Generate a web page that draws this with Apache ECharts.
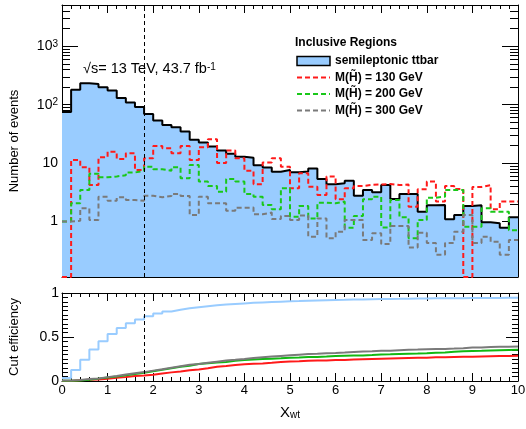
<!DOCTYPE html>
<html>
<head>
<meta charset="utf-8">
<script src="https://cdn.jsdelivr.net/npm/echarts@6/dist/echarts.min.js"></script>
<style>
  html, body { margin: 0; padding: 0; background: #ffffff; }
  #chart { width: 526px; height: 429px; }
</style>
</head>
<body>
<div id="chart"></div>
<script>
// Binning of the X_wt distribution
const BIN_WIDTH = 0.2;
const X_MIN = 0;
const X_MAX = 10;
const CUT_VALUE = 1.8;

// Event yields per bin (43.7 fb^-1)
const ttbar = [75, 180, 234, 226, 200, 175, 130, 109, 91, 69,
  53.6, 44.7, 41.3, 34.7, 25, 22.5, 19.2, 16.4, 14.4, 12.9,
  12.4, 9.2, 8.4, 7.1, 7.6, 7.0, 7.15, 8.05, 5.36, 4.35,
  4.5, 5.0, 2.77, 3.47, 3.17, 4.23, 2.43, 2.96, 2.96, 1.47,
  1.9, 1.92, 1.09, 1.29, 1.84, 1.9, 0.97, 0.93, 0.78, 1.18];

const m130 = [0, 11.3, 8.5, 4.2, 12.6, 15.7, 11.8, 14.8, 7.6, 12.1,
  19.7, 18.0, 14.8, 19.7, 11.3, 18.7, 25.7, 10.0, 16.4, 12.1,
  7.4, 4.35, 10.2, 12.1, 8.7, 3.7, 6.7, 3.95, 2.85, 5.9,
  2.4, 3.7, 4.06, 4.23, 4.3, 4.4, 4.2, 4.3, 1.79, 3.57,
  4.82, 2.19, 4.06, 3.6, 0, 3.9, 4.2, 1.62, 2.19, 2.19];

const m200 = [1.0, 2.05, 3.47, 6.6, 5.7, 5.9, 6.2, 6.9, 7.4, 8.7,
  7.85, 7.4, 8.5, 5.5, 9.3, 4.82, 4.06, 3.24, 5.36, 4.82,
  2.96, 2.66, 1.92, 1.62, 3.7, 1.21, 1.84, 1.13, 2.1, 2.05,
  2.19, 0.78, 1.24, 2.4, 2.66, 0.79, 2.34, 1.18, 0.515, 1.06,
  2.56, 2.66, 3.47, 3.47, 0.81, 0.81, 1.68, 1.47, 1.47, 0.71];

const m300 = [1.0, 1.03, 1.68, 1.06, 2.66, 2.27, 2.6, 2.34, 2.27, 2.77,
  2.6, 2.73, 2.96, 2.73, 1.29, 2.66, 2.05, 2.05, 1.53, 1.72,
  1.73, 1.33, 1.42, 1.10, 1.24, 1.06, 1.26, 0.55, 1.13, 0.515,
  0.67, 1.06, 1.06, 0.48, 0.63, 0.41, 0.84, 0.84, 0.36, 0.64,
  0.43, 0.27, 0.43, 0.67, 1.29, 0.43, 0.55, 0.45, 0.27, 0.48];

// Cut efficiency (fraction of events with X_wt below the bin's upper edge)
const effTtbar = [0.035, 0.126, 0.242, 0.358, 0.452, 0.535, 0.603, 0.655, 0.700, 0.737,
  0.766, 0.789, 0.809, 0.826, 0.839, 0.850, 0.860, 0.868, 0.875, 0.882,
  0.888, 0.893, 0.897, 0.901, 0.905, 0.908, 0.912, 0.916, 0.919, 0.921,
  0.923, 0.926, 0.927, 0.929, 0.931, 0.933, 0.934, 0.936, 0.937, 0.938,
  0.939, 0.940, 0.941, 0.941, 0.942, 0.943, 0.944, 0.944, 0.945, 0.945];

const effM130 = [0, 0.008, 0.014, 0.017, 0.026, 0.038, 0.046, 0.057, 0.062, 0.071,
  0.085, 0.098, 0.109, 0.123, 0.131, 0.145, 0.163, 0.171, 0.182, 0.191,
  0.196, 0.200, 0.207, 0.216, 0.222, 0.225, 0.229, 0.232, 0.234, 0.239,
  0.240, 0.243, 0.246, 0.249, 0.252, 0.255, 0.258, 0.261, 0.263, 0.265,
  0.269, 0.270, 0.273, 0.276, 0.276, 0.279, 0.282, 0.283, 0.284, 0.286];

const effM200 = [0.002, 0.006, 0.014, 0.027, 0.039, 0.051, 0.064, 0.079, 0.094, 0.112,
  0.128, 0.144, 0.161, 0.173, 0.192, 0.202, 0.211, 0.217, 0.229, 0.239,
  0.245, 0.250, 0.254, 0.258, 0.265, 0.268, 0.272, 0.274, 0.278, 0.283,
  0.287, 0.289, 0.291, 0.296, 0.302, 0.304, 0.308, 0.311, 0.312, 0.314,
  0.320, 0.325, 0.332, 0.339, 0.341, 0.343, 0.346, 0.349, 0.352, 0.354];

const effM300 = [0.006, 0.012, 0.022, 0.029, 0.044, 0.058, 0.074, 0.088, 0.101, 0.118,
  0.133, 0.150, 0.167, 0.184, 0.192, 0.207, 0.220, 0.232, 0.241, 0.251,
  0.262, 0.270, 0.278, 0.285, 0.292, 0.299, 0.306, 0.310, 0.316, 0.319,
  0.323, 0.330, 0.336, 0.339, 0.343, 0.345, 0.350, 0.355, 0.357, 0.361,
  0.364, 0.365, 0.368, 0.372, 0.380, 0.382, 0.386, 0.388, 0.390, 0.393];

// Log-axis range and ticks of the upper panel
const Y_MIN = 0.112;
const Y_MAX = 5100;
const yMajorTicks = [1, 10, 100, 1000];
const yMinorTicks = [0.2, 0.3, 0.4, 0.5, 0.6, 0.7, 0.8, 0.9,
  2, 3, 4, 5, 6, 7, 8, 9,
  20, 30, 40, 50, 60, 70, 80, 90,
  200, 300, 400, 500, 600, 700, 800, 900,
  2000, 3000, 4000, 5000];

const legendNames = ['semileptonic ttbar', 'M(H\u0303) = 130 GeV', 'M(H\u0303) = 200 GeV', 'M(H\u0303) = 300 GeV'];

const FONT = "'Liberation Sans', Arial, Helvetica, sans-serif";
const C_FILL = '#99ccff';
const C_RED = '#ff1a1a';
const C_GREEN = '#19c819';
const C_GREY = '#7a7a7a';
const C_GREEN_EFF = '#12b812';

// Histogram contents -> step-line points on the bin low edges plus the last upper edge
function histPoints(values, floor) {
  const pts = values.map((v, i) => [X_MIN + i * BIN_WIDTH, (floor !== undefined && !(v > floor)) ? floor : v]);
  const last = pts[pts.length - 1][1];
  pts.push([X_MIN + values.length * BIN_WIDTH, last]);
  return pts;
}

function powLabel(v) {
  if (v < 50) return String(v);
  return '{b|10}{sup|' + Math.round(Math.log10(v)) + '}';
}

const tickLine = { color: '#000', width: 1 };

function logAxis(position, values, len, withLabels) {
  return {
    type: 'log', logBase: 10, gridIndex: 0, position: position,
    min: Y_MIN, max: Y_MAX,
    axisLine: { show: withLabels !== null, lineStyle: tickLine },
    axisTick: { show: true, inside: true, length: len, customValues: values, lineStyle: tickLine },
    axisLabel: withLabels ? {
      show: true, customValues: values, formatter: powLabel, margin: 4,
      fontFamily: FONT, fontSize: 14, color: '#000',
      rich: {
        b: { fontFamily: FONT, fontSize: 14, lineHeight: 14, padding: [5, 0, 0, 0], verticalAlign: 'bottom', color: '#000' },
        sup: { fontFamily: FONT, fontSize: 10, lineHeight: 10, verticalAlign: 'top', color: '#000' }
      }
    } : { show: false },
    splitLine: { show: false },
    minorTick: { show: false }
  };
}

function xAxisDef(gridIndex, position, labels, majorLen, minorLen) {
  const ax = {
    type: 'value', gridIndex: gridIndex, position: position,
    min: X_MIN, max: X_MAX, interval: 1,
    axisLine: { show: true, onZero: false, lineStyle: tickLine },
    axisTick: { show: true, inside: true, length: majorLen, lineStyle: tickLine },
    minorTick: { show: true, splitNumber: 5, length: minorLen, lineStyle: tickLine },
    splitLine: { show: false },
    axisLabel: labels ? {
      show: true, margin: 3, fontFamily: FONT, fontSize: 13, color: '#000',
      showMinLabel: true, showMaxLabel: true
    } : { show: false }
  };
  return ax;
}

function effAxis(position, withLabels) {
  return {
    type: 'value', gridIndex: 1, position: position,
    min: 0, max: 1, interval: 0.5,
    axisLine: { show: true, onZero: false, lineStyle: tickLine },
    axisTick: { show: true, inside: true, length: 12, lineStyle: tickLine },
    minorTick: { show: true, splitNumber: 10, length: 6, lineStyle: tickLine },
    splitLine: { show: false },
    axisLabel: withLabels ? {
      show: true, margin: 3, fontFamily: FONT, fontSize: 14, color: '#000',
      showMinLabel: true, showMaxLabel: true
    } : { show: false }
  };
}

const cutLine = {
  silent: true, symbol: 'none', label: { show: false },
  lineStyle: { color: '#000', width: 1, type: [4, 3] },
  data: [{ xAxis: CUT_VALUE }]
};

function dashedHist(name, values, color) {
  return {
    name: name, type: 'line', xAxisIndex: 0, yAxisIndex: 0,
    step: 'end', symbol: 'none', showSymbol: false, clip: true,
    data: histPoints(values, Y_MIN),
    lineStyle: { color: color, width: 2, type: [5, 3] },
    itemStyle: { color: color },
    z: 3
  };
}

function effLine(name, values, color) {
  return {
    name: name, type: 'line', xAxisIndex: 2, yAxisIndex: 4,
    step: 'end', symbol: 'none', showSymbol: false,
    data: histPoints(values),
    lineStyle: { color: color, width: 2 },
    itemStyle: { color: color },
    z: 3
  };
}

const leftMajor = logAxis('left', yMajorTicks, 16, true);
leftMajor.name = 'Number of events';
leftMajor.nameLocation = 'middle';
leftMajor.nameGap = 41;
leftMajor.nameTextStyle = { fontFamily: FONT, fontSize: 13, color: '#000' };

const effLeft = effAxis('left', true);
effLeft.name = 'Cut efficiency';
effLeft.nameLocation = 'middle';
effLeft.nameGap = 41;
effLeft.nameTextStyle = { fontFamily: FONT, fontSize: 13, color: '#000' };

const xBottom = xAxisDef(1, 'bottom', true, 8, 4);
xBottom.name = '{n|X}{sub|wt}';
xBottom.nameLocation = 'middle';
xBottom.nameGap = 24;
xBottom.nameTextStyle = {
  fontFamily: FONT, color: '#000',
  rich: {
    n: { fontFamily: FONT, fontSize: 15, lineHeight: 15, verticalAlign: 'top', color: '#000' },
    sub: { fontFamily: FONT, fontSize: 10, lineHeight: 10, padding: [9, 0, 0, 0], verticalAlign: 'bottom', color: '#000' }
  }
};

const option = {
  animation: false,
  backgroundColor: '#ffffff',
  textStyle: { fontFamily: FONT },
  grid: [
    { left: 62, top: 5, width: 456, height: 272, outerBoundsMode: 'none', containLabel: false },
    { left: 62, top: 293, width: 456, height: 88, outerBoundsMode: 'none', containLabel: false }
  ],
  title: [
    {
      text: 'Inclusive Regions', left: 295, top: 37, padding: 0,
      textStyle: { fontFamily: FONT, fontSize: 12, fontWeight: 'bold', color: '#000', lineHeight: 12 }
    },
    {
      text: '{n|\u221As= 13 TeV, 43.7 fb}{sup|-1}', left: 83, top: 62, padding: 0,
      textStyle: {
        fontFamily: FONT, fontSize: 14.5, fontWeight: 'normal', color: '#000',
        rich: {
          n: { fontFamily: FONT, fontSize: 14.5, fontWeight: 'normal', lineHeight: 14, padding: [4, 0, 0, 0], verticalAlign: 'bottom', color: '#000' },
          sup: { fontFamily: FONT, fontSize: 10, fontWeight: 'normal', lineHeight: 10, verticalAlign: 'top', color: '#000' }
        }
      }
    }
  ],
  legend: {
    left: 296, top: 55, orient: 'vertical', padding: 0,
    itemWidth: 33, itemHeight: 9, itemGap: 4.5,
    selectedMode: false,
    textStyle: { fontFamily: FONT, fontSize: 12, fontWeight: 'bold', color: '#000', lineHeight: 12 },
    data: [
      { name: legendNames[0], icon: 'rect', itemStyle: { color: C_FILL, borderColor: '#000', borderWidth: 1.5 } },
      { name: legendNames[1], itemStyle: { opacity: 0 } },
      { name: legendNames[2], itemStyle: { opacity: 0 } },
      { name: legendNames[3], itemStyle: { opacity: 0 } }
    ]
  },
  xAxis: [
    xAxisDef(0, 'bottom', false, 8, 4),
    xAxisDef(0, 'top', false, 8, 4),
    xBottom,
    xAxisDef(1, 'top', false, 8, 4)
  ],
  yAxis: [
    leftMajor,
    logAxis('left', yMinorTicks, 8, null),
    logAxis('right', yMajorTicks, 16, false),
    logAxis('right', yMinorTicks, 8, null),
    effLeft,
    effAxis('right', false)
  ],
  series: [
    {
      name: legendNames[0], type: 'line', xAxisIndex: 0, yAxisIndex: 0,
      step: 'end', symbol: 'none', showSymbol: false,
      data: histPoints(ttbar, Y_MIN),
      lineStyle: { color: '#000', width: 2 },
      areaStyle: { color: C_FILL, opacity: 1, origin: 'start' },
      itemStyle: { color: C_FILL },
      z: 2,
      markLine: cutLine
    },
    dashedHist(legendNames[1], m130, C_RED),
    dashedHist(legendNames[2], m200, C_GREEN),
    dashedHist(legendNames[3], m300, C_GREY),
    Object.assign(effLine('eff ttbar', effTtbar, C_FILL), { markLine: cutLine }),
    effLine('eff 130', effM130, C_RED),
    effLine('eff 200', effM200, C_GREEN_EFF),
    effLine('eff 300', effM300, C_GREY)
  ]
};

const chart = echarts.init(document.getElementById('chart'), null, { renderer: 'canvas' });
chart.setOption(option);
</script>
</body>
</html>
